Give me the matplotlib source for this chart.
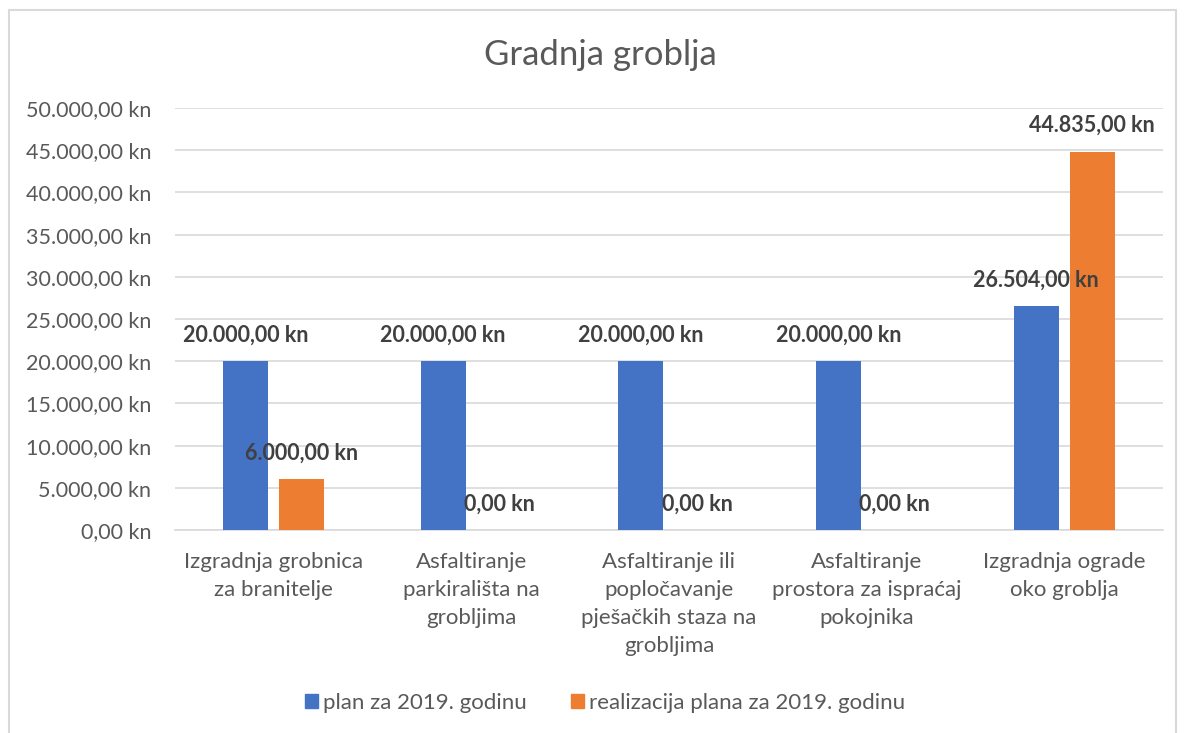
import matplotlib
matplotlib.use("Agg")
import matplotlib.pyplot as plt
import matplotlib.patches as mpatches
from matplotlib.ticker import FuncFormatter
import numpy as np

categories = [
    "Izgradnja grobnica\nza branitelje",
    "Asfaltiranje\nparkirališta na\ngrobljima",
    "Asfaltiranje ili\npopločavanje\npješačkih staza na\ngrobljima",
    "Asfaltiranje\nprostora za ispraćaj\npokojnika",
    "Izgradnja ograde\noko groblja",
]
plan = [20000, 20000, 20000, 20000, 26504]
realizacija = [6000, 0, 0, 0, 44835]
series_names = ["plan za 2019. godinu", "realizacija plana za 2019. godinu"]
title = "Gradnja groblja"

plt.rcParams['font.family'] = ['Lato', 'DejaVu Sans']

W, H = 1184, 733
fig = plt.figure(figsize=(W / 100, H / 100), dpi=100)

# outer chart border
fig.patches.append(mpatches.Rectangle((9 / W, -0.05), (1176 - 9) / W, 1.05 - 10 / H,
                                      transform=fig.transFigure, fill=False,
                                      edgecolor="#d9d9d9", linewidth=1.5))

ax = fig.add_axes([175 / W, 1 - 530 / H, (1163 - 175) / W, (530 - 108) / H])

def fmt(v):
    s = f"{v:,.2f}"
    s = s.replace(",", "X").replace(".", ",").replace("X", ".")
    return s + " kn"

x = np.arange(len(categories))
bw = 0.228
off = 0.0285 + bw / 2
blue, orange = "#4472C4", "#ED7D31"
ax.bar(x - off, plan, bw, color=blue, zorder=3)
ax.bar(x + off, realizacija, bw, color=orange, zorder=3)

for xi, v in zip(x, plan):
    ax.annotate(fmt(v), (xi - off, v), xytext=(0, 26), textcoords="offset pixels",
                ha="center", va="center", fontsize=15.5, fontweight="bold", color="#404040", zorder=5)
for xi, v in zip(x, realizacija):
    ax.annotate(fmt(v), (xi + off, v), xytext=(0, 26), textcoords="offset pixels",
                ha="center", va="center", fontsize=15.5, fontweight="bold", color="#404040", zorder=5)

ax.set_xlim(-0.5, len(categories) - 0.5)
ax.set_ylim(0, 50000)
ax.set_yticks(np.arange(0, 50001, 5000))
ax.yaxis.set_major_formatter(FuncFormatter(lambda v, p: fmt(v)))
ax.grid(axis="y", color="#d9d9d9", linewidth=1.2, zorder=0)
for s in ["top", "right", "left"]:
    ax.spines[s].set_visible(False)
ax.spines["bottom"].set_color("#d9d9d9")
ax.spines["bottom"].set_linewidth(1.2)
ax.tick_params(axis="y", length=0, labelsize=15.5, colors="#595959", pad=17)
ax.tick_params(axis="x", length=0, labelsize=16, colors="#595959", pad=16)
ax.set_xticks(x)
ax.set_xticklabels(categories, linespacing=1.5)

fig.text(600 / W, 1 - 55 / H, title, ha="center", va="center", fontsize=25, color="#595959")

handles = [mpatches.Patch(color=blue), mpatches.Patch(color=orange)]
fig.legend(handles, series_names, loc="center", bbox_to_anchor=(605 / W, 1 - 703 / H),
           ncol=2, frameon=False, fontsize=16, labelcolor="#595959",
           handlelength=0.6, handleheight=0.6, handletextpad=0.2, columnspacing=2.0)

fig.savefig("out.png", dpi=100)
